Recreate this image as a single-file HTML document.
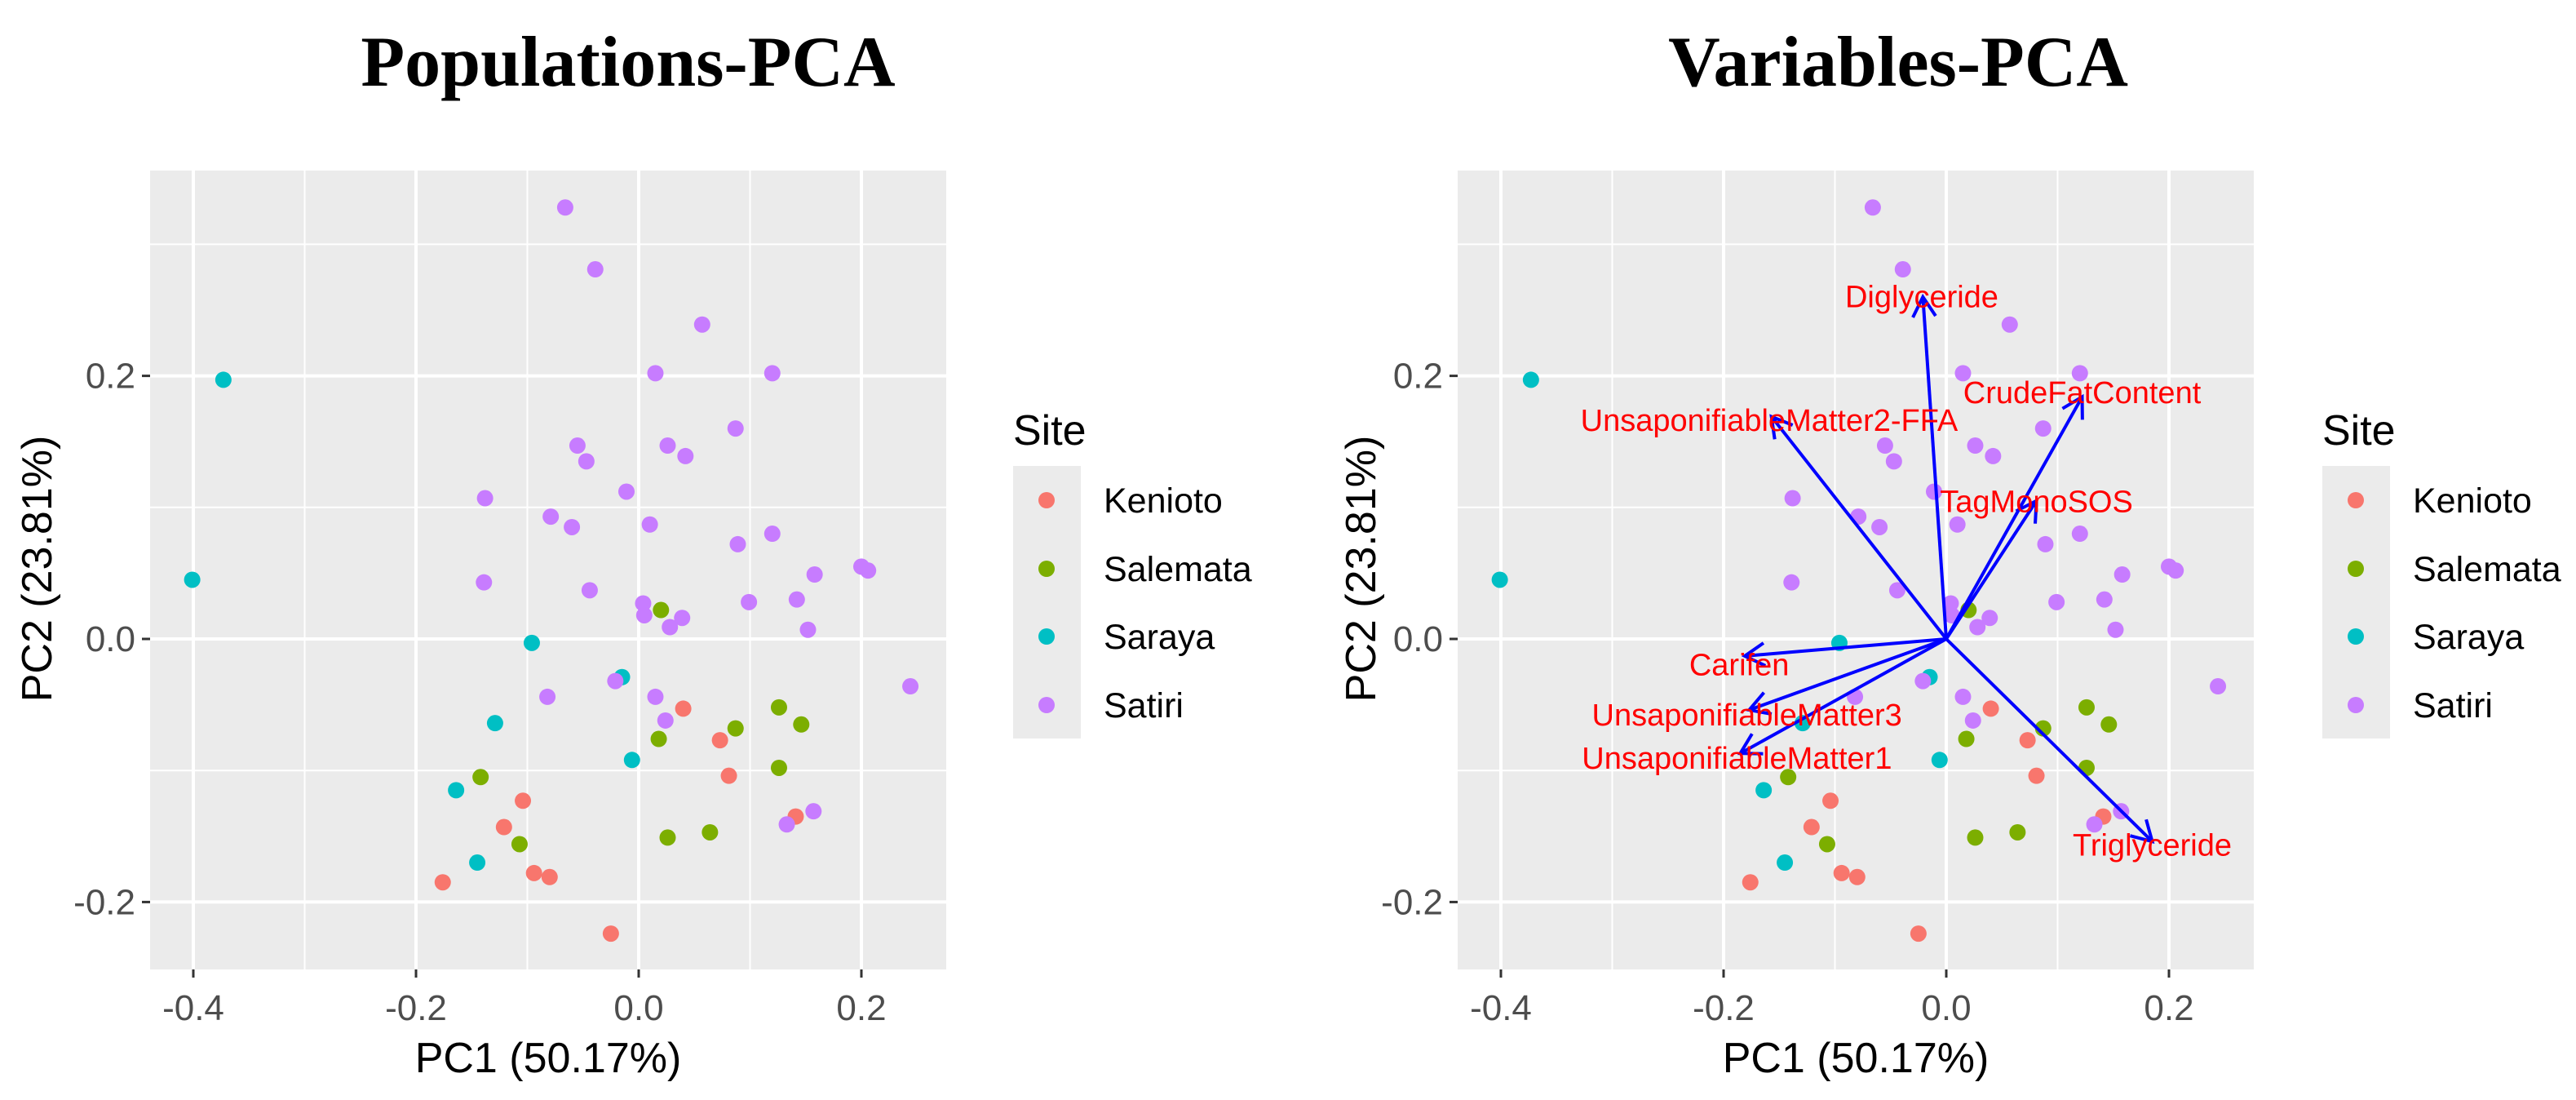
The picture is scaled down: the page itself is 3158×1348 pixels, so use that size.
<!DOCTYPE html>
<html><head><meta charset="utf-8"><style>
html,body{margin:0;padding:0;background:#fff;}
svg{display:block;}
text{font-family:"Liberation Sans",sans-serif;}
</style></head><body>
<svg id="chart" width="3158" height="1348" viewBox="0 0 3158 1348" xmlns="http://www.w3.org/2000/svg">
<text x="770" y="105" text-anchor="middle" style="font-family:'Liberation Serif',serif;font-weight:bold;font-size:88px">Populations-PCA</text>
<text x="2327" y="105" text-anchor="middle" style="font-family:'Liberation Serif',serif;font-weight:bold;font-size:88px">Variables-PCA</text>
</svg>
<script>
const sites = ["Kenioto","Salemata","Saraya","Satiri"];
const siteColors = ["#F8766D","#7CAE00","#00BFC4","#C77CFF"];
const xTicks = [-0.4,-0.2,0.0,0.2];
const xTickLabels = ["-0.4","-0.2","0.0","0.2"];
const xMinor = [-0.3,-0.1,0.1];
const yTicks = [-0.2,0.0,0.2];
const yTickLabels = ["-0.2","0.0","0.2"];
const yMinor = [-0.1,0.1,0.3];
const keniotoX = [0.040,0.073,0.081,-0.104,-0.121,0.141,-0.094,-0.080,-0.176,-0.025];
const keniotoY = [-0.053,-0.077,-0.104,-0.123,-0.143,-0.135,-0.178,-0.181,-0.185,-0.224];
const salemataX = [0.020,0.126,0.146,0.087,0.018,0.126,-0.142,-0.107,0.026,0.064];
const salemataY = [0.022,-0.052,-0.065,-0.068,-0.076,-0.098,-0.105,-0.156,-0.151,-0.147];
const sarayaX = [-0.373,-0.401,-0.096,-0.015,-0.129,-0.006,-0.164,-0.145];
const sarayaY = [0.197,0.045,-0.003,-0.029,-0.064,-0.092,-0.115,-0.170];
const satiriX = [-0.066,-0.039,0.057,0.015,0.120,0.087,-0.055,0.026,-0.047,0.042,-0.011,-0.138,-0.079,-0.060,0.010,0.120,0.089,-0.139,-0.044,0.200,0.206,0.158,0.004,0.005,0.099,0.142,0.039,0.028,0.152,0.244,-0.021,-0.082,0.015,0.024,0.157,0.133];
const satiriY = [0.328,0.281,0.239,0.202,0.202,0.160,0.147,0.147,0.135,0.139,0.112,0.107,0.093,0.085,0.087,0.080,0.072,0.043,0.037,0.055,0.052,0.049,0.027,0.018,0.028,0.030,0.016,0.009,0.007,-0.036,-0.032,-0.044,-0.044,-0.062,-0.131,-0.141];
const varNames = ["Diglyceride","CrudeFatContent","UnsaponifiableMatter2-FFA","TagMonoSOS","Carifen","UnsaponifiableMatter3","UnsaponifiableMatter1","Triglyceride"];
const arrowX = [-0.021,0.122,-0.157,0.081,-0.181,-0.177,-0.185,0.185];
const arrowY = [0.260,0.184,0.169,0.105,-0.013,-0.054,-0.087,-0.154];
const labelX = [-0.022,0.122,-0.159,0.081,-0.186,-0.179,-0.188,0.185];
const labelY = [0.261,0.188,0.167,0.105,-0.019,-0.057,-0.090,-0.156];

const seriesX = [keniotoX,salemataX,sarayaX,satiriX];
const seriesY = [keniotoY,salemataY,sarayaY,satiriY];
const NS = "http://www.w3.org/2000/svg";
const svg = document.getElementById('chart');
function mk(tag, attrs, parent){const e=document.createElementNS(NS,tag);for(const k in attrs)e.setAttribute(k,attrs[k]);(parent||svg).appendChild(e);return e;}

function panel(ox, withArrows, prefix){
  const left=ox+184, right=ox+1160, top=209, bottom=1188;
  const xs = v => ox+783 + v*1365;
  const ys = v => 783 - v*1612;
  const g = mk('g',{});
  
  
  const bg = mk('rect',{x:left,y:top,width:right-left,height:bottom-top,fill:'#ebebeb'},g);
  
  
  xMinor.forEach(v=>{const l=mk('line',{x1:xs(v),x2:xs(v),y1:top,y2:bottom,stroke:'#fff','stroke-width':2},g);
    
    });
  yMinor.forEach(v=>{const l=mk('line',{x1:left,x2:right,y1:ys(v),y2:ys(v),stroke:'#fff','stroke-width':2},g);
    
    });
  xTicks.forEach((v,i)=>{
    const l=mk('line',{x1:xs(v),x2:xs(v),y1:top,y2:bottom,stroke:'#fff','stroke-width':4},g);
    
    
    const t=mk('line',{x1:xs(v),x2:xs(v),y1:bottom,y2:bottom+10,stroke:'#333','stroke-width':3},g);
    
    
    const tx=mk('text',{x:xs(v),y:bottom+62,'text-anchor':'middle','font-size':44,fill:'#4d4d4d'},g);
    tx.textContent=xTickLabels[i];
    
    
  });
  yTicks.forEach((v,i)=>{
    const l=mk('line',{x1:left,x2:right,y1:ys(v),y2:ys(v),stroke:'#fff','stroke-width':4},g);
    
    
    const t=mk('line',{x1:left-10,x2:left,y1:ys(v),y2:ys(v),stroke:'#333','stroke-width':3},g);
    
    
    const tx=mk('text',{x:left-18,y:ys(v)+15,'text-anchor':'end','font-size':44,fill:'#4d4d4d'},g);
    tx.textContent=yTickLabels[i];
    
    
  });
  seriesX.forEach((arr,s)=>{
    arr.forEach((v,i)=>{
      const c=mk('circle',{cx:xs(v),cy:ys(seriesY[s][i]),r:10,fill:siteColors[s]},g);
      
      
    });
  });
  if(withArrows){
    const ox0=xs(0), oy0=ys(0);
    varNames.forEach((n,i)=>{
      const tx=xs(arrowX[i]), ty=ys(arrowY[i]);
      const a=mk('line',{x1:ox0,y1:oy0,x2:tx,y2:ty,stroke:'#0000ff','stroke-width':4},g);
      
      
      const ang=Math.atan2(ty-oy0,tx-ox0), L=28, sp=Math.PI/6;
      const p=`M${tx-L*Math.cos(ang-sp)},${ty-L*Math.sin(ang-sp)} L${tx},${ty} L${tx-L*Math.cos(ang+sp)},${ty-L*Math.sin(ang+sp)}`;
      const h=mk('path',{d:p,fill:'none',stroke:'#0000ff','stroke-width':4},g);
      
      
    });
    varNames.forEach((n,i)=>{
      const t=mk('text',{x:xs(labelX[i]),y:ys(labelY[i])+14,'text-anchor':'middle','font-size':38,fill:'#ff0000'},g);
      t.textContent=n;
      
      
    });
  }
  const xt=mk('text',{x:ox+672,y:1314,'text-anchor':'middle','font-size':52,fill:'#000'},g);
  xt.textContent='PC1 (50.17%)';
  
  
  const yx = ox + (withArrows?65:45)+18;
  const yt=mk('text',{x:yx,y:697,'text-anchor':'middle','font-size':52,fill:'#000',transform:`rotate(-90 ${yx} 697)`},g);
  yt.textContent='PC2 (23.81%)';
  
  
  const lx = withArrows ? 2847 : 1242;
  const lt=mk('text',{x:lx,y:545,'font-size':52,fill:'#000'},g);
  lt.textContent='Site';
  
  
  const lb=mk('rect',{x:lx,y:571,width:83,height:334,fill:'#ebebeb'},g);
  
  
  const keyY=[613,697,780,864];
  sites.forEach((s,i)=>{
    const c=mk('circle',{cx:lx+41,cy:keyY[i],r:10,fill:siteColors[i]},g);
    
    
    const t=mk('text',{x:lx+111,y:keyY[i]+15,'font-size':43,fill:'#000'},g);
    t.textContent=s;
    
    
  });
}
panel(0,false,'populations');
panel(1603,true,'variables');
</script>
</body></html>
